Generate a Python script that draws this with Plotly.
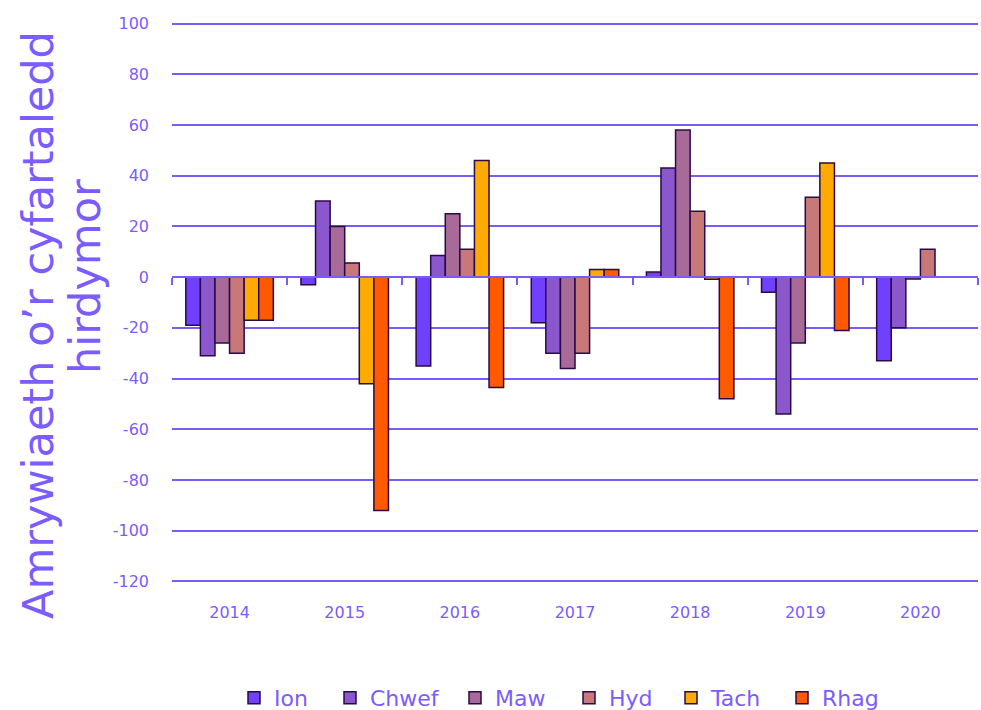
import plotly.graph_objects as go

years = ["2014", "2015", "2016", "2017", "2018", "2019", "2020"]
series_names = ["Ion", "Chwef", "Maw", "Hyd", "Tach", "Rhag"]
ion = [-19, -3, -35, -18, 2, -6, -33]
chwef = [-31, 30, 8.5, -30, 43, -54, -20]
maw = [-26, 20, 25, -36, 58, -26, -0.7]
hyd = [-30, 5.6, 11, -30, 26, 31.5, 11]
tach = [-17, -42, 46, 3, -0.8, 45, None]
rhag = [-17, -92, -43.5, 3, -48, -21, None]
y_ticks = [-120, -100, -80, -60, -40, -20, 0, 20, 40, 60, 80, 100]
y_tick_labels = ["-120", "-100", "-80", "-60", "-40", "-20", "0", "20", "40", "60", "80", "100"]
title_line1 = "Amrywiaeth o’r cyfartaledd"
title_line2 = "hirdymor"

values = [ion, chwef, maw, hyd, tach, rhag]
colors = ["#7040ff", "#8a58cc", "#a86a96", "#c87878", "#ffaa00", "#ff5a00"]
text_color = "#7b5cff"
grid_color = "#7a5af8"
font_family = "DejaVu Sans"

# legend text start positions (screen px) for each series entry
legend_text_x = [274, 370, 495, 609, 711, 822]

L, R, T, B = 172, 3, 22, 127
plot_w = 981 - L - R
plot_h = 710 - T - B

fig = go.Figure()
legend_layouts = {}
for i, (name, vals, col) in enumerate(zip(series_names, values, colors)):
    lg = "legend" if i == 0 else f"legend{i + 1}"
    fig.add_trace(go.Bar(
        x=years, y=vals, name=name, legend=lg,
        marker=dict(color=col, line=dict(color="#2a0a4a", width=1.5)),
    ))
    legend_layouts[lg] = dict(
        orientation="h", x=(legend_text_x[i] - 40 - L) / plot_w, xanchor="left",
        y=-115 / plot_h, yanchor="middle", bgcolor="rgba(0,0,0,0)",
        font=dict(size=22, color=text_color), itemwidth=30)

# helper axis for the category ticks along the zero line
fig.add_trace(go.Scatter(x=[], y=[], xaxis="x2", showlegend=False, hoverinfo="skip"))

pad = 0.6
ymin, ymax = y_ticks[0] - pad, y_ticks[-1] + pad
zero_pos = (0 - ymin) / (ymax - ymin)

fig.update_layout(
    width=981, height=710,
    margin=dict(l=L, r=R, t=T, b=B, autoexpand=False),
    paper_bgcolor="white", plot_bgcolor="white",
    font=dict(family=font_family, color=text_color, size=16),
    barmode="group", bargap=0.24, bargroupgap=0,
    showlegend=True,
    xaxis=dict(type="category", range=[-0.5, 6.5], showline=False, showgrid=False,
               automargin=False,
               ticks="", tickfont=dict(size=16, color=text_color), ticklabelstandoff=18),
    xaxis2=dict(overlaying="x", anchor="free", position=zero_pos, matches="x",
                type="category", showline=True, linecolor=grid_color, linewidth=2,
                ticks="outside", ticklen=7, tickcolor=grid_color, tickwidth=1.5,
                tickmode="array", tickvals=[-0.5 + i for i in range(8)],
                showticklabels=False, showgrid=False, side="bottom", automargin=False),
    yaxis=dict(range=[ymin, ymax], tickmode="array", tickvals=y_ticks, ticktext=y_tick_labels,
               showgrid=True, gridcolor=grid_color, gridwidth=1.5,
               zeroline=False, showline=False, ticks="", automargin=False,
               tickfont=dict(size=16, color=text_color), ticklabelstandoff=22),
    annotations=[
        dict(text=title_line1, xref="paper", yref="paper",
             x=(38 - L) / plot_w, y=1 - (325 - T) / plot_h, textangle=-90,
             showarrow=False, xanchor="center", yanchor="middle",
             font=dict(size=43, color=text_color)),
        dict(text=title_line2, xref="paper", yref="paper",
             x=(85 - L) / plot_w, y=1 - (277 - T) / plot_h, textangle=-90,
             showarrow=False, xanchor="center", yanchor="middle",
             font=dict(size=43, color=text_color)),
    ],
)
fig.update_layout(**legend_layouts)

fig.write_html("out.html", config={"displayModeBar": False},
               post_script="document.body.style.margin='0';document.body.style.overflow='hidden';")
